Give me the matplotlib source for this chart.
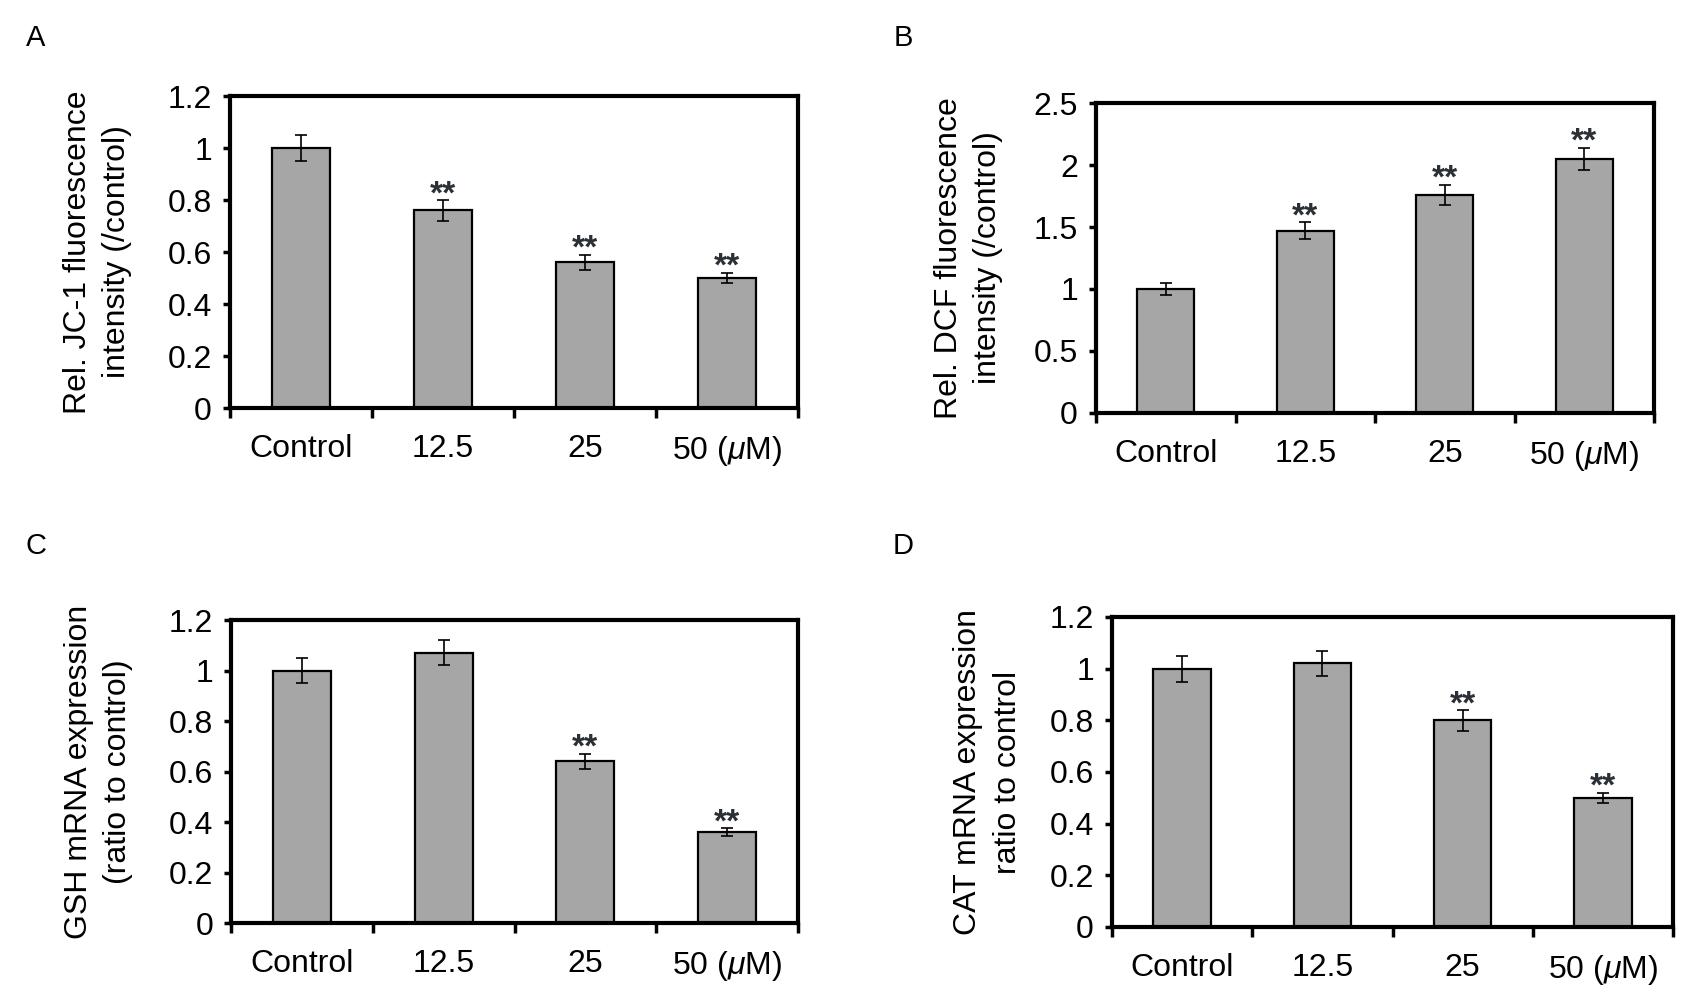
import matplotlib
matplotlib.use("Agg")
import matplotlib.pyplot as plt
from matplotlib.ticker import FuncFormatter

plt.rcParams['font.family'] = ['Liberation Sans', 'DejaVu Sans']
plt.rcParams['mathtext.fontset'] = 'custom'
plt.rcParams['mathtext.rm'] = 'Liberation Sans'
plt.rcParams['mathtext.it'] = 'Liberation Sans:italic'

# data
categories = ["Control", "12.5", "25", r"50 ($\mu$M)"]

jc1_mean = [1.00, 0.76, 0.56, 0.50]
jc1_err = [0.05, 0.04, 0.03, 0.02]
jc1_sig = [False, True, True, True]

dcf_mean = [1.00, 1.47, 1.76, 2.05]
dcf_err = [0.05, 0.07, 0.08, 0.09]
dcf_sig = [False, True, True, True]

gsh_mean = [1.00, 1.07, 0.64, 0.36]
gsh_err = [0.05, 0.05, 0.03, 0.015]
gsh_sig = [False, False, True, True]

cat_mean = [1.00, 1.02, 0.80, 0.50]
cat_err = [0.05, 0.05, 0.04, 0.02]
cat_sig = [False, False, True, True]

panels = [
    ("A", jc1_mean, jc1_err, jc1_sig, "Rel. JC-1 fluorescence\nintensity (/control)", 1.2, 0.2),
    ("B", dcf_mean, dcf_err, dcf_sig, "Rel. DCF fluorescence\nintensity (/control)", 2.5, 0.5),
    ("C", gsh_mean, gsh_err, gsh_sig, "GSH mRNA expression\n(ratio to control)", 1.2, 0.2),
    ("D", cat_mean, cat_err, cat_sig, "CAT mRNA expression\nratio to control", 1.2, 0.2),
]

# axes boxes in figure fraction, and label / letter positions
boxes = [
    [0.1350, 0.5952, 0.3333, 0.3095],
    [0.6432, 0.5903, 0.3275, 0.3075],
    [0.1356, 0.0843, 0.3327, 0.3006],
    [0.6526, 0.0804, 0.3292, 0.3075],
]
ylabel_x = [-0.234, -0.228, -0.234, -0.221]
letter_pos = [(0.021, 0.962), (0.530, 0.962), (0.021, 0.458), (0.530, 0.458)]

fig = plt.figure(figsize=(17.04, 10.08), dpi=100)

for (letter, mean, err, sig, ylab, ymax, step), box, lx, lp in zip(panels, boxes, ylabel_x, letter_pos):
    ax = fig.add_axes(box)
    x = range(len(categories))
    ax.bar(x, mean, width=0.41, color="#a6a6a6", edgecolor="black", linewidth=1.6,
           yerr=err, capsize=4, error_kw=dict(elinewidth=1.2, capthick=1.2, ecolor="black"),
           zorder=2)
    for xi, m, e, s in zip(x, mean, err, sig):
        if s:
            ax.text(xi, m + e - 0.01 * ymax, "**", ha="center", va="baseline", fontsize=24,
                    fontweight="bold", color="#2b2f36")

    ax.set_xlim(-0.5, len(categories) - 0.5)
    ax.set_ylim(0, ymax)
    ticks = [i * step for i in range(int(round(ymax / step)) + 1)]
    ax.set_yticks(ticks)
    ax.yaxis.set_major_formatter(FuncFormatter(lambda v, p: f"{v:g}"))

    ax.set_xticks(list(x))
    ax.set_xticklabels(categories)
    ax.set_xticks([i - 0.5 for i in range(len(categories) + 1)], minor=True)
    ax.tick_params(axis="x", which="major", length=0, pad=19, labelsize=23)
    ax.tick_params(axis="x", which="minor", length=7, width=2.5, direction="out")
    ax.tick_params(axis="y", length=5, width=2.5, direction="out", pad=8, labelsize=23)

    for sp in ax.spines.values():
        sp.set_linewidth(3)

    ax.set_ylabel(ylab, fontsize=23, linespacing=1.4, va="center")
    ax.yaxis.set_label_coords(lx, 0.5)

    fig.text(lp[0], lp[1], letter, fontsize=21, ha="center", va="center")

fig.savefig("out.png", dpi=100)
